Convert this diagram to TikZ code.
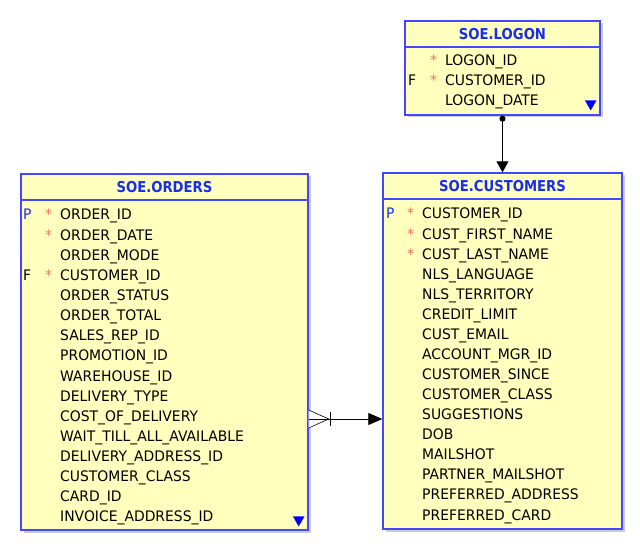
\documentclass[tikz,border=0pt]{standalone}
\usepackage{fontspec}
\setmainfont[FakeStretch=0.96]{DejaVu Sans}
\newfontfamily\headfont[FakeStretch=0.88]{DejaVu Sans}
\usepackage{tikz}
\usetikzlibrary{positioning,shadows,shapes.geometric,arrows.meta}

\definecolor{entityFill}{RGB}{255,255,190}
\definecolor{entityLine}{RGB}{70,70,255}
\definecolor{entityTitle}{RGB}{25,45,240}
\definecolor{mandatory}{RGB}{240,115,90}

\tikzset{
  entity/.style = {draw=entityLine, line width=1.4pt, fill=entityFill, inner sep=0pt,
    drop shadow={shadow xshift=2.5pt, shadow yshift=-2.5pt, opacity=0.4}},
  entityHead/.style = {draw=entityLine, line width=1.4pt, fill=entityFill, inner sep=0pt,
    minimum height=26pt, anchor=north, text=entityTitle, font=\headfont\fontsize{15}{17}\selectfont\bfseries},
  column/.style = {inner sep=0pt, anchor=base west, font=\fontsize{14.5}{16}\selectfont},
  keyMark/.style = {column, text=entityTitle},
  starMark/.style = {column, text=mandatory},
  moreMark/.style = {regular polygon, regular polygon sides=3, shape border rotate=180,
    fill=blue, minimum size=13.5pt, inner sep=0pt}
}

\begin{document}
\begin{tikzpicture}[x=1pt, y=-1pt]
  \useasboundingbox (0,0) rectangle (640,548);

  % tables
  \node[entity, minimum width=287pt, minimum height=356pt] (orders) at (164.5,352) {};
  \node[entityHead, minimum width=287pt] (ordersHead) at (orders.north) {SOE.ORDERS};
  \node[entity, minimum width=239pt, minimum height=356pt] (customers) at (502.5,351) {};
  \node[entityHead, minimum width=239pt] (customersHead) at (customers.north) {SOE.CUSTOMERS};
  \node[entity, minimum width=195pt, minimum height=94pt] (logon) at (502.5,68) {};
  \node[entityHead, minimum width=195pt] (logonHead) at (logon.north) {SOE.LOGON};

  % columns
  \foreach \col [count=\i] in {ORDER\_ID, ORDER\_DATE, ORDER\_MODE, CUSTOMER\_ID, ORDER\_STATUS,
      ORDER\_TOTAL, SALES\_REP\_ID, PROMOTION\_ID, WAREHOUSE\_ID, DELIVERY\_TYPE, COST\_OF\_DELIVERY,
      WAIT\_TILL\_ALL\_AVAILABLE, DELIVERY\_ADDRESS\_ID, CUSTOMER\_CLASS, CARD\_ID, INVOICE\_ADDRESS\_ID}
    \node[column] (ordersRow\i) at (60,{220+20.13*(\i-1)}) {\col};
  \foreach \col [count=\i] in {CUSTOMER\_ID, CUST\_FIRST\_NAME, CUST\_LAST\_NAME, NLS\_LANGUAGE,
      NLS\_TERRITORY, CREDIT\_LIMIT, CUST\_EMAIL, ACCOUNT\_MGR\_ID, CUSTOMER\_SINCE, CUSTOMER\_CLASS,
      SUGGESTIONS, DOB, MAILSHOT, PARTNER\_MAILSHOT, PREFERRED\_ADDRESS, PREFERRED\_CARD}
    \node[column] (customersRow\i) at (422,{219+20.07*(\i-1)}) {\col};
  \foreach \col [count=\i] in {LOGON\_ID, CUSTOMER\_ID, LOGON\_DATE}
    \node[column] (logonRow\i) at (445,{66+20*(\i-1)}) {\col};

  % keys and mandatory marks
  \node[keyMark] (ordersPK) at ([xshift=-37pt]ordersRow1.base west) {P};
  \node[column] (ordersFK) at ([xshift=-37pt]ordersRow4.base west) {F};
  \node[starMark] (ordersStar1) at ([xshift=-15pt]ordersRow1.base west) {*};
  \node[starMark] (ordersStar2) at ([xshift=-15pt]ordersRow2.base west) {*};
  \node[starMark] (ordersStar4) at ([xshift=-15pt]ordersRow4.base west) {*};
  \node[keyMark] (customersPK) at ([xshift=-36pt]customersRow1.base west) {P};
  \node[starMark] (customersStar1) at ([xshift=-15pt]customersRow1.base west) {*};
  \node[starMark] (customersStar2) at ([xshift=-15pt]customersRow2.base west) {*};
  \node[starMark] (customersStar3) at ([xshift=-15pt]customersRow3.base west) {*};
  \node[column] (logonFK) at ([xshift=-37pt]logonRow2.base west) {F};
  \node[starMark] (logonStar1) at ([xshift=-15pt]logonRow1.base west) {*};
  \node[starMark] (logonStar2) at ([xshift=-15pt]logonRow2.base west) {*};

  \node[moreMark] (ordersMore) at ([xshift=-10pt,yshift=11pt]orders.south east) {};
  \node[moreMark] (logonMore) at ([xshift=-10pt,yshift=12pt]logon.south east) {};

  % relations
  \draw[{Circle[length=6pt]}-{Triangle[length=11pt,width=12pt]}, line width=1.3pt] (logon.south) -- (customers.north);

  \coordinate (link) at (345,419);
  \coordinate (footBase) at (orders.east |- link);
  \draw[line width=0.6pt, fill=white] ([yshift=9pt]footBase) -- ([xshift=20pt]footBase) -- ([yshift=-9pt]footBase);
  \draw[line width=0.6pt] ([xshift=22pt,yshift=-7pt]footBase) -- ([xshift=22pt,yshift=7pt]footBase);
  \draw[-{Triangle[length=14pt,width=12pt]}, line width=0.8pt] (footBase) -- (customers.west |- link);
\end{tikzpicture}
\end{document}
